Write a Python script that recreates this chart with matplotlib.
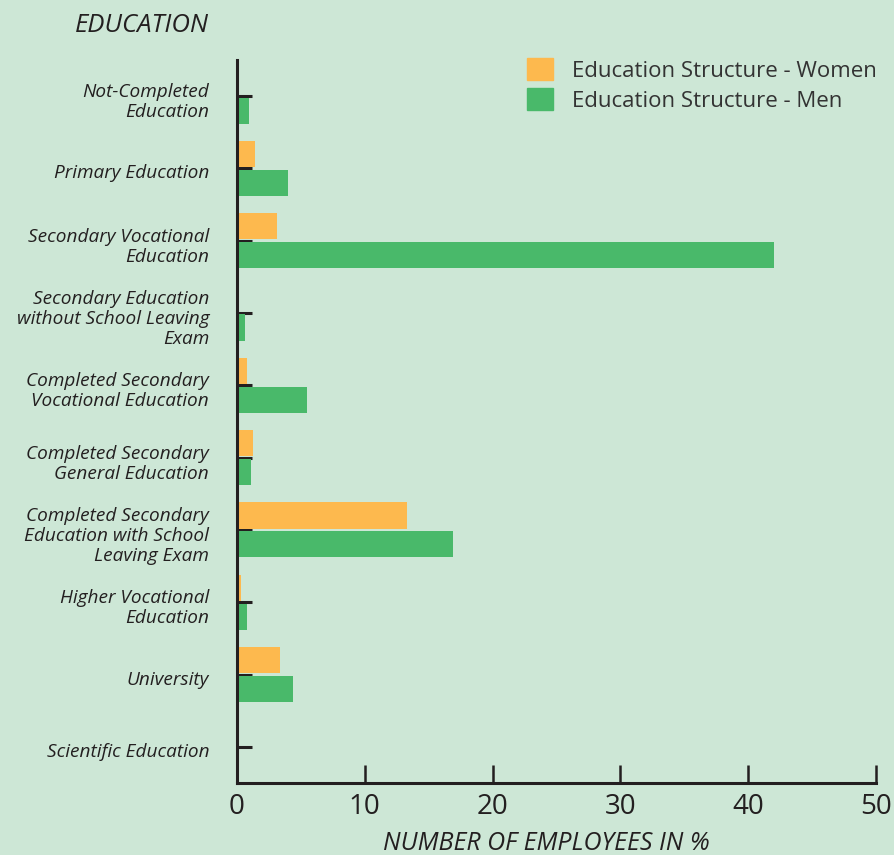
import numpy as np
from matplotlib import pyplot as plt
from matplotlib.patches import Patch
from matplotlib.transforms import ScaledTranslation

plt.rcParams['font.family'] = ['Open Sans', 'DejaVu Sans']

categories = ["Not-Completed\nEducation",
              "Primary Education",
              "Secondary Vocational\nEducation",
              "Secondary Education\nwithout School Leaving\nExam",
              "Completed Secondary\nVocational Education",
              "Completed Secondary\nGeneral Education",
              "Completed Secondary\nEducation with School\nLeaving Exam",
              "Higher Vocational\nEducation",
              "University",
              "Scientific Education"]
women = [0.15, 1.4, 3.1, 0.15, 0.8, 1.25, 13.3, 0.3, 3.35, 0.05]
men = [0.95, 4.0, 42.0, 0.65, 5.5, 1.1, 16.9, 0.8, 4.4, 0.05]
xticks = [0, 10, 20, 30, 40, 50]

bg = '#cde7d6'
c_women = '#fdb94e'
c_men = '#49b96a'
ink = '#231f20'

fig = plt.figure(figsize=(8.94, 8.55), dpi=100, facecolor=bg)
ax = fig.add_axes([237/894, 72/855, (876-237)/894, (783-60)/855])
ax.set_facecolor(bg)

y = np.arange(len(categories))
h = 0.36
ax.barh(y - h/2 - 0.02, women, height=h, color=c_women, zorder=2)
ax.barh(y + h/2 + 0.02, men, height=h, color=c_men, zorder=2)

ax.set_xlim(0, 50)
ax.set_ylim(len(categories) - 0.5, -0.5)
ax.set_axisbelow(True)

for pos in ['right', 'top']:
    ax.spines[pos].set_visible(False)
for pos in ['left', 'bottom']:
    ax.spines[pos].set_linewidth(2.2)
    ax.spines[pos].set_color(ink)

ax.set_xticks(xticks)
ax.set_xticklabels([str(t) for t in xticks])
ax.tick_params(axis='x', direction='in', length=13, width=1.8, color=ink,
               labelsize=20, labelcolor=ink, pad=7)
ax.set_yticks(y)
ax.set_yticklabels(categories, fontstyle='italic', linespacing=1.15)
ax.tick_params(axis='y', direction='in', length=11, width=2.2, color=ink,
               labelsize=13.7, labelcolor=ink, pad=20)
# labels sit a few pixels below the tick in the original
shift = ScaledTranslation(0, -3/100, fig.dpi_scale_trans)
for lab in ax.get_yticklabels():
    lab.set_transform(lab.get_transform() + shift)

fig.text(209/894, 1 - 26/855, "EDUCATION", ha='right', va='center',
         fontsize=18.5, fontstyle='italic', color=ink)
fig.text(546/894, 1 - 843/855, "NUMBER OF EMPLOYEES IN %", ha='center',
         va='center', fontsize=18, fontstyle='italic', color=ink)

handles = [Patch(color=c_women, label="Education Structure - Women"),
           Patch(color=c_men, label="Education Structure - Men")]
ax.legend(handles=handles, loc='upper left',
          bbox_to_anchor=(527/894, 1 - 58/855), bbox_transform=fig.transFigure,
          frameon=False, fontsize=16, handlelength=1.17, handleheight=1.17,
          handletextpad=0.85, labelspacing=0.28, borderpad=0, borderaxespad=0,
          labelcolor='#333333')

plt.savefig("out.png", dpi=100, facecolor=bg)
